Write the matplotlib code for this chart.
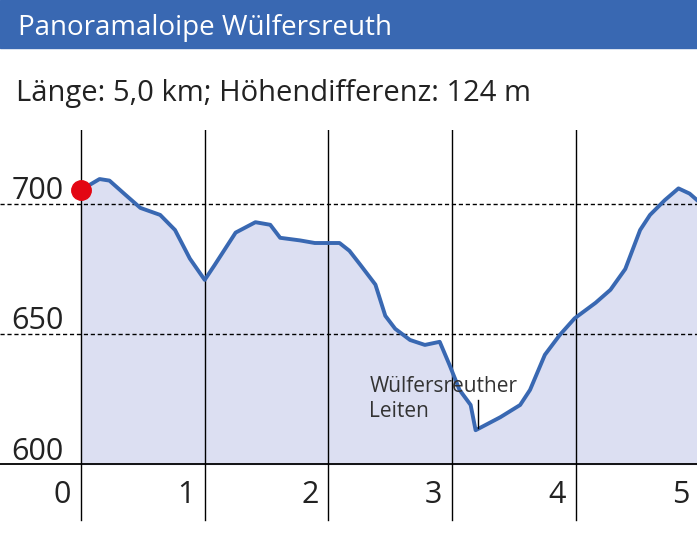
import matplotlib
matplotlib.use("Agg")
import matplotlib.pyplot as plt
from matplotlib.patches import Rectangle

plt.rcParams['font.family'] = ['Open Sans', 'DejaVu Sans']

# profile data (km, m)
km = [0.0, 0.15, 0.23, 0.36, 0.48, 0.64, 0.76, 0.88, 1.0, 1.08, 1.25, 1.41, 1.53, 1.61,
      1.77, 1.89, 2.09, 2.17, 2.26, 2.38, 2.46, 2.54, 2.66, 2.78, 2.90, 2.98, 3.06, 3.15,
      3.19, 3.27, 3.39, 3.55, 3.63, 3.75, 3.87, 3.99, 4.16, 4.28, 4.40, 4.52, 4.60, 4.72,
      4.83, 4.92, 4.98]
elev = [705.4, 709.6, 709.0, 703.5, 698.5, 695.8, 690.0, 679.0, 670.8, 676.5, 689.0, 693.0,
        692.0, 687.0, 686.0, 685.0, 685.0, 682.0, 676.5, 669.0, 657.0, 652.0, 647.7, 645.8,
        647.0, 638.0, 628.5, 622.7, 613.0, 615.0, 618.0, 622.7, 628.5, 642.0, 649.6, 656.0,
        662.0, 667.0, 675.0, 690.0, 695.8, 701.5, 706.0, 704.0, 701.5]
km_ticks = [0, 1, 2, 3, 4, 5]
elev_ticks = [600, 650, 700]

title = "Panoramaloipe Wülfersreuth"
subtitle = "Länge: 5,0 km; Höhendifferenz: 124 m"

blue = "#3968b2"
fig = plt.figure(figsize=(6.97, 5.33), dpi=100)
fig.patches.append(Rectangle((0, 1 - 48 / 533), 1, 48 / 533, transform=fig.transFigure,
                             color=blue, zorder=0))
fig.text(18 / 697, 1 - 28 / 533, title, color="white", fontsize=20, va="center")
fig.text(16 / 697, 1 - 93 / 533, subtitle, color="#222222", fontsize=21, va="center")

ax = fig.add_axes([0, 0, 1, (533 - 130) / 533])
px = 123.7
ax.set_xlim(-81 / px, 616 / px)
ax.set_ylim(600 - 69 / 2.6, 600 + 334 / 2.6)
ax.axis("off")

ax.fill_between(km, elev, 600, color="#dcdff2", zorder=1)
ax.plot(km, elev, color=blue, lw=2.8, zorder=3, solid_joinstyle="round")
ax.plot([km[0]], [elev[0]], "o", color="#e30613", ms=14, zorder=4)

x0, x1 = ax.get_xlim()
for e in elev_ticks[1:]:
    ax.plot([x0, x1], [e, e], color="black", lw=1, ls=(0, (3, 2)), zorder=2)
    ax.text(-0.14, e + 5, str(e), ha="right", va="center", fontsize=22, color="#222222")
ax.plot([x0, x1], [600, 600], color="black", lw=1.3, zorder=2)
ax.text(-0.14, 604.6, "600", ha="right", va="center", fontsize=22, color="#222222")

for k in km_ticks:
    ax.plot([k, k], [728.5, 578.5], color="black", lw=1, zorder=2)
    ax.text(k - 0.15, 588, str(k), ha="center", va="center", fontsize=22, color="#222222")

ax.text(2.33, 625, "Wülfersreuther\nLeiten", fontsize=15, color="#333333", va="center",
        linespacing=1.3, zorder=5)
ax.plot([3.21, 3.21], [614, 624.5], color="black", lw=1, zorder=5)

fig.savefig("out.png", dpi=100)
